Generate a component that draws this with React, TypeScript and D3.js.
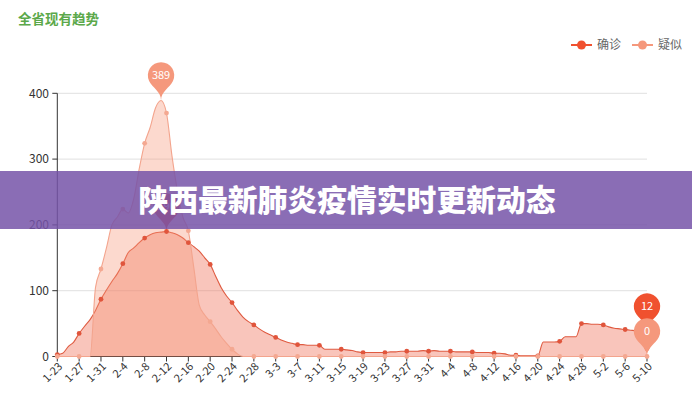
import React from 'react';
import * as d3 from 'd3';

const W = 692;
const H = 400;

// categories: every day from 1-23 to 5-10 (2020)
const dates: string[] = d3.timeDay
  .range(new Date(2020, 0, 23), new Date(2020, 4, 11))
  .map(d3.timeFormat('%-m-%-d'));

const seriesNames = ['确诊', '疑似'];

const confirmed: number[] = [
  3, 5, 15, 22, 35, 46, 56, 70, 87, 101,
  114, 126, 141, 158, 165, 173, 180, 185, 188, 189,
  190, 188, 185, 180, 173, 167, 160, 150, 140, 122,
  105, 92, 82, 70, 60, 53, 48, 42, 37, 33,
  29, 25, 22, 20, 18, 18, 17, 17, 17, 11,
  11, 11, 11, 10, 9, 7, 6, 6, 6, 6,
  6, 7, 7, 8, 8, 8, 8, 9, 8, 9,
  8, 8, 8, 7, 7, 7, 7, 6, 6, 6,
  5, 5, 4, 2, 2, 1, 1, 1, 1, 22,
  22, 22, 23, 30, 30, 30, 50, 50, 49, 49,
  48, 45, 43, 42, 41, 40, 39, 22, 12,
];

const suspected: number[] = [
  0, 0, 0, 0, 0, 0, 0, 105, 133, 165,
  200, 212, 224, 218, 240, 285, 324, 348, 378, 389,
  370, 305, 252, 212, 191, 135, 78, 63, 53, 42,
  30, 20, 11, 4, 0, 0, 0, 0, 0, 0,
  0, 0, 0, 0, 0, 0, 0, 0, 0, 0,
  0, 0, 0, 0, 0, 0, 0, 0, 0, 0,
  0, 0, 0, 0, 0, 0, 0, 0, 0, 0,
  0, 0, 0, 0, 0, 0, 0, 0, 0, 0,
  0, 0, 0, 0, 0, 0, 0, 0, 0, 0,
  0, 0, 0, 0, 0, 0, 0, 0, 0, 0,
  0, 0, 0, 0, 0, 0, 0, 0, 0,
];

const yTicks = [0, 100, 200, 300, 400];
const labelEvery = 4;

const title = '全省现有趋势';
const bannerText = '陕西最新肺炎疫情实时更新动态';

const FONT = '"Noto Sans CJK SC", "Noto Sans", sans-serif';

const colors = {
  confirmedLine: '#df5a40',
  confirmedDot: '#e0553c',
  confirmedFill: 'rgba(240,110,85,0.40)',
  confirmedPin: '#f0512f',
  suspectedLine: '#f3a48d',
  suspectedDot: '#f4a891',
  suspectedFill: 'rgba(248,150,120,0.36)',
  suspectedPin: '#f5987c',
};

function pinGeom(size: number) {
  const w = (size / 5) * 3;
  const h = Math.max(w, size);
  const r = w / 2;
  const dy = (r * r) / (h - r);
  return { w, h, r, dy };
}

function pinPath(x: number, y: number, size: number): string {
  const { h, r, dy } = pinGeom(size);
  const cy = y - h + r + dy;
  const angle = Math.asin(dy / r);
  const dx = Math.cos(angle) * r;
  const tanX = Math.sin(angle);
  const tanY = Math.cos(angle);
  const cpLen = r * 0.6;
  const cpLen2 = r * 0.7;
  const p = d3.path();
  p.moveTo(x - dx, cy + dy);
  p.arc(x, cy, r, Math.PI - angle, Math.PI * 2 + angle);
  p.bezierCurveTo(x + dx - tanX * cpLen, cy + dy + tanY * cpLen, x, y - cpLen2, x, y);
  p.bezierCurveTo(x, y - cpLen2, x - dx + tanX * cpLen, cy + dy + tanY * cpLen, x - dx, cy + dy);
  p.closePath();
  return p.toString();
}

function pinCenterY(y: number, size: number): number {
  const { h, r, dy } = pinGeom(size);
  return y - h + r + dy;
}

export default function App() {
  const x = d3.scalePoint<string>().domain(dates).range([57.3, 647]);
  const y = d3.scaleLinear().domain([0, 400]).range([356.5, 93.3]);
  const xi = (i: number) => x(dates[i]) as number;

  const area = d3
    .area<number>()
    .x((_, i) => xi(i))
    .y0(y(0))
    .y1((d) => y(d))
    .curve(d3.curveMonotoneX);
  const line = d3
    .line<number>()
    .x((_, i) => xi(i))
    .y((d) => y(d))
    .curve(d3.curveMonotoneX);

  const tickIdx = dates.map((_, i) => i).filter((i) => i % labelEvery === 0);

  const maxIdx = (arr: number[]) => arr.indexOf(d3.max(arr) as number);
  const last = dates.length - 1;
  const pinSize = 44;

  const pins = [
    { i: maxIdx(confirmed), v: confirmed[maxIdx(confirmed)], c: colors.confirmedPin, off: 0 },
    { i: last, v: confirmed[last], c: colors.confirmedPin, off: -17 },
    { i: maxIdx(suspected), v: suspected[maxIdx(suspected)], c: colors.suspectedPin, off: 0 },
    { i: last, v: suspected[last], c: colors.suspectedPin, off: 0 },
  ];

  return (
    <svg
      width={W}
      height={H}
      style={{ position: 'absolute', left: 0, top: 0, display: 'block', background: '#fff' }}
      fontFamily={FONT}
    >
      <rect x={0} y={0} width={W} height={H} fill="#fff" />
      {/* title */}
      <text x={18} y={24} fontSize={13.5} fontWeight="bold" fill="#5ba84a">
        {title}
      </text>

      {/* legend */}
      {seriesNames.map((name, k) => {
        const lx = 571 + k * 61;
        const c = k === 0 ? colors.confirmedPin : colors.suspectedPin;
        return (
          <g key={name}>
            <line x1={lx} x2={lx + 21} y1={45} y2={45} stroke={c} strokeWidth={2} />
            <circle cx={lx + 10.5} cy={45} r={4.5} fill={c} />
            <text x={lx + 26} y={49} fontSize={12} fill="#666">
              {name}
            </text>
          </g>
        );
      })}

      {/* grid */}
      {yTicks.map((t) =>
        t === 0 ? null : (
          <line key={t} x1={57.3} x2={647} y1={y(t)} y2={y(t)} stroke="#e0e0e0" strokeWidth={1} />
        )
      )}

      {/* y axis */}
      <line x1={57.3} x2={57.3} y1={y(400)} y2={y(0)} stroke="#333" strokeWidth={1} />
      {yTicks.map((t) => (
        <g key={t}>
          <line x1={52.3} x2={57.3} y1={y(t)} y2={y(t)} stroke="#333" />
          <text x={49} y={y(t)} dy="0.35em" fontSize={12} textAnchor="end" fill="#333">
            {t}
          </text>
        </g>
      ))}

      {/* x axis */}
      <line x1={57.3} x2={647} y1={y(0)} y2={y(0)} stroke="#333" strokeWidth={1} />
      {tickIdx.map((i) => (
        <g key={i}>
          <line x1={xi(i)} x2={xi(i)} y1={y(0)} y2={y(0) + 5} stroke="#333" />
          <text
            transform={`translate(${xi(i) + 3},${y(0) + 8}) rotate(-45)`}
            fontSize={11}
            textAnchor="end"
            dy="0.35em"
            fill="#333"
          >
            {dates[i]}
          </text>
        </g>
      ))}

      {/* series: 确诊 */}
      <path d={area(confirmed) || ''} fill={colors.confirmedFill} />
      <path d={line(confirmed) || ''} fill="none" stroke={colors.confirmedLine} strokeWidth={1.1} />
      {/* series: 疑似 */}
      <path d={area(suspected) || ''} fill={colors.suspectedFill} />
      <path d={line(suspected) || ''} fill="none" stroke={colors.suspectedLine} strokeWidth={1.1} />

      {tickIdx.map((i) => (
        <circle key={'c' + i} cx={xi(i)} cy={y(confirmed[i])} r={2.4} fill={colors.confirmedDot} />
      ))}
      {tickIdx.map((i) => (
        <circle key={'s' + i} cx={xi(i)} cy={y(suspected[i])} r={2.4} fill={colors.suspectedDot} />
      ))}

      {/* mark points */}
      {pins.map((p, k) => {
        const px = xi(p.i);
        const py = y(p.v) + p.off;
        return (
          <g key={'pin' + k}>
            <path d={pinPath(px, py, pinSize)} fill={p.c} />
            <text
              x={px}
              y={pinCenterY(py, pinSize)}
              dy="0.35em"
              textAnchor="middle"
              fontSize={11}
              fill="#fff"
            >
              {p.v}
            </text>
          </g>
        );
      })}

      {/* banner overlay */}
      <rect x={0} y={171} width={W} height={58} fill="rgba(118,84,168,0.85)" />
      <text
        x={W / 2 + 1}
        y={200}
        dy="0.36em"
        textAnchor="middle"
        fontSize={29.8}
        fontWeight={900}
        fill="#fff"
        fontFamily='"Noto Sans CJK SC", sans-serif'
      >
        {bannerText}
      </text>
    </svg>
  );
}
